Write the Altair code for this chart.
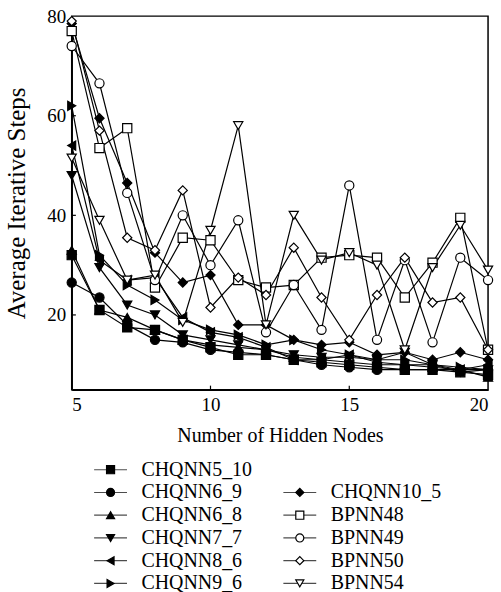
import altair as alt
import pandas as pd

nodes = list(range(5, 21))

series_names = ["CHQNN5_10", "CHQNN6_9", "CHQNN6_8", "CHQNN7_7", "CHQNN8_6",
                "CHQNN9_6", "CHQNN10_5", "BPNN48", "BPNN49", "BPNN50", "BPNN54"]

chqnn5_10 = [32, 21, 17.5, 17, 15, 13.5, 12, 12, 11, 10.5, 10, 9.5, 9, 9, 8.5, 8]
chqnn6_9 = [26.5, 23.5, 18, 15, 14.5, 13, 12.5, 12, 11, 10, 9.5, 9, 9, 9, 9, 9]
chqnn6_8 = [33, 21, 19.5, 17, 15, 14, 13.5, 13, 11.5, 11, 10.5, 10, 10, 9.5, 9, 7.5]
chqnn7_7 = [48, 29.5, 22, 20, 16, 15, 14, 13, 12, 11.5, 11.5, 11, 12.5, 10, 8.5, 9]
chqnn8_6 = [54, 31, 27, 27.5, 19.5, 16.5, 15.5, 13.5, 11, 11, 12, 10.5, 10, 10, 9, 10]
chqnn9_6 = [62, 32, 26, 23, 19, 17, 16, 14, 15, 13, 12, 11, 11, 10, 9.5, 9]
chqnn10_5 = [78.5, 59.5, 46.5, 32.5, 26.5, 28, 18, 18, 15, 14, 14.5, 12, 12.5, 11, 12.5, 11]
bpnn48 = [77, 53.5, 57.5, 25.5, 35.5, 35, 27, 25.5, 26, 31.5, 32, 31.5, 23.5, 30.5, 39.5, 13]
bpnn49 = [74, 66.5, 44.5, 27, 40, 30, 39, 16.5, 26, 17, 46, 15, 31, 14.5, 31.5, 27]
bpnn50 = [79, 57, 35.5, 33, 45, 21.5, 27.5, 24, 33.5, 23.5, 15, 24, 31.5, 22.5, 23.5, 13]
bpnn54 = [51.5, 39, 27, 28, 18.5, 37, 58, 18, 40, 31, 32.5, 30, 13, 29.5, 38, 29]

all_values = [chqnn5_10, chqnn6_9, chqnn6_8, chqnn7_7, chqnn8_6, chqnn9_6,
              chqnn10_5, bpnn48, bpnn49, bpnn50, bpnn54]

shapes = ["square", "circle", "triangle-up", "triangle-down", "triangle-left",
          "triangle-right", "diamond", "square", "circle", "diamond", "triangle-down"]
fills = ["black"] * 7 + ["white"] * 4

x_ticks = [5, 10, 15, 20]
y_ticks = [20, 40, 60, 80]

FONT = "Liberation Serif"

rows = []
for name, vals in zip(series_names, all_values):
    for n, v in zip(nodes, vals):
        rows.append({"series": name, "nodes": n, "steps": v})
df = pd.DataFrame(rows)

xs = alt.Scale(domain=[5, 20], nice=False)
ys = alt.Scale(domain=[5, 80], nice=False)
shape_scale = alt.Scale(domain=series_names, range=shapes)
fill_scale = alt.Scale(domain=series_names, range=fills)

base = alt.Chart(df)
lines = base.mark_line(color="black", strokeWidth=1.2).encode(
    x=alt.X("nodes:Q", scale=xs,
            axis=alt.Axis(values=x_ticks, title="Number of Hidden Nodes", format="d")),
    y=alt.Y("steps:Q", scale=ys,
            axis=alt.Axis(values=y_ticks, title="Average Iterative Steps")),
    detail="series:N",
)
points = base.mark_point(stroke="black", strokeWidth=1.2, opacity=1, size=85).encode(
    x=alt.X("nodes:Q", scale=xs),
    y=alt.Y("steps:Q", scale=ys),
    shape=alt.Shape("series:N", scale=shape_scale, legend=None),
    fill=alt.Fill("series:N", scale=fill_scale, legend=None),
)

xt = pd.DataFrame({"t": [10, 15]})
yt = pd.DataFrame({"t": [20, 40, 60]})
xticks = alt.Chart(xt).mark_rule(color="black", strokeWidth=1.2).encode(
    x=alt.X("t:Q", scale=xs), y=alt.datum(5), y2=alt.datum(5.8))
yticks = alt.Chart(yt).mark_rule(color="black", strokeWidth=1.2).encode(
    y=alt.Y("t:Q", scale=ys), x=alt.datum(5), x2=alt.datum(5.15))

main = alt.layer(lines, xticks, yticks, points).properties(
    width=418, height=375,
    view=alt.ViewBackground(stroke="black", strokeWidth=1.5),
)

# legend panel
leg_col = [0, 0, 0, 0, 0, 0, 1, 1, 1, 1, 1]
leg_row = [0, 1, 2, 3, 4, 5, 1, 2, 3, 4, 5]
leg = pd.DataFrame({"series": series_names, "col": leg_col, "row": leg_row})
lx = alt.Scale(domain=[0, 1], range=[39, 229])
ly = alt.Scale(domain=[-0.5, 5.5], range=[0, 137])
lb = alt.Chart(leg)
ltick = lb.mark_tick(orient="horizontal", color="black", thickness=1.2, size=33).encode(
    x=alt.X("col:Q", scale=lx, axis=None), y=alt.Y("row:Q", scale=ly, axis=None))
lpt = lb.mark_point(stroke="black", strokeWidth=1.2, opacity=1, size=65).encode(
    x=alt.X("col:Q", scale=lx, axis=None), y=alt.Y("row:Q", scale=ly, axis=None),
    shape=alt.Shape("series:N", scale=shape_scale, legend=None),
    fill=alt.Fill("series:N", scale=fill_scale, legend=None))
ltxt = lb.mark_text(align="left", baseline="middle", dx=31, font=FONT, fontSize=20,
                    color="black").encode(
    x=alt.X("col:Q", scale=lx, axis=None), y=alt.Y("row:Q", scale=ly, axis=None),
    text="series:N")
legend_chart = alt.layer(ltick, lpt, ltxt).properties(
    width=418, height=137, view=alt.ViewBackground(stroke=None))

chart = alt.vconcat(main, legend_chart, spacing=12).properties(
    padding={"left": 4, "top": 5, "right": 5, "bottom": 0}
).configure_view(stroke=None).configure_axis(
    labelFont=FONT, titleFont=FONT, labelFontSize=19, titleFontSize=20,
    labelColor="black", titleColor="black", titleFontWeight="normal",
    domainColor="black", domainWidth=1.5, ticks=False, grid=False, labelPadding=6,
).configure_axisY(titleFontSize=25, titlePadding=17).configure_axisX(titlePadding=11)

chart.save("out.html", embed_options={"renderer": "svg", "actions": False})
